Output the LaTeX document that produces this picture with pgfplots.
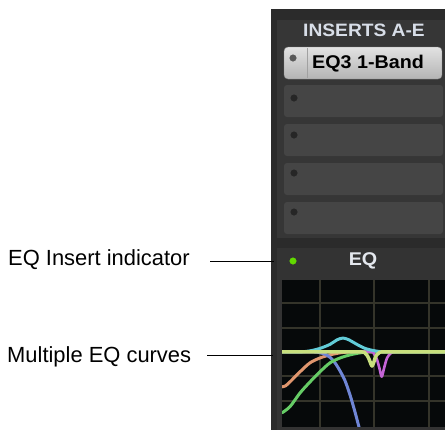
\documentclass[border=0pt]{standalone}
\usepackage{fontspec}
\setmainfont{Liberation Sans}
\newfontfamily\uifont{Liberation Sans}[FakeStretch=1.07]
\usepackage{pgfplots}
\pgfplotsset{compat=1.18}

\definecolor{panelout}{HTML}{2B2B2B}
\definecolor{panelin}{HTML}{363636}
\definecolor{slotc}{HTML}{454545}
\definecolor{eqhead}{HTML}{333333}
\definecolor{slotdot}{HTML}{262626}
\definecolor{btntop}{HTML}{E2E2E2}
\definecolor{btnbot}{HTML}{B4B4B4}
\definecolor{btnedge}{HTML}{8A8A8A}
\definecolor{hdrtxt}{HTML}{D8DEE8}
\definecolor{eqtxt}{HTML}{E4E8EE}
\definecolor{graphbg}{HTML}{06090A}
\definecolor{gridc}{HTML}{34342A}
\definecolor{orangec}{HTML}{E0966E}
\definecolor{bluec}{HTML}{6F86D6}
\definecolor{greenc}{HTML}{66CC66}
\definecolor{magc}{HTML}{C464D6}
\definecolor{cyanc}{HTML}{62CCD8}
\definecolor{yelc}{HTML}{C8E07E}

\begin{document}
\begin{tikzpicture}
% the mixer strip, in pixel coordinates
\begin{axis}[name=ui, hide axis, scale only axis,
  width=445bp, height=430bp,
  xmin=0, xmax=445, ymin=0, ymax=430, y dir=reverse, clip=false]
  \fill[white] (axis cs:0,0) rectangle (axis cs:445,430);
  \fill[panelout] (axis cs:271,9) rectangle (axis cs:445,430);
  \fill[panelin] (axis cs:277,20) rectangle (axis cs:445,238);
  \fill[eqhead] (axis cs:277,248) rectangle (axis cs:445,430);
  % insert slots
  \fill[slotc, rounded corners=3bp] (axis cs:284,85) rectangle (axis cs:443,117);
  \fill[slotc, rounded corners=3bp] (axis cs:284,124) rectangle (axis cs:443,156);
  \fill[slotc, rounded corners=3bp] (axis cs:284,163) rectangle (axis cs:443,195);
  \fill[slotc, rounded corners=3bp] (axis cs:284,202) rectangle (axis cs:443,234);
  % first insert button
  \shade[top color=btntop, bottom color=btnbot, draw=btnedge, rounded corners=4bp]
    (axis cs:284,47) rectangle (axis cs:442,79);
  \draw[btnedge!80, line width=0.8bp] (axis cs:307,48) -- (axis cs:307,78);
  \node[anchor=base, inner sep=0, text=hdrtxt,
    font=\uifont\bfseries\fontsize{18}{20}\selectfont] at (axis cs:364,36) {INSERTS A-E};
  \node[anchor=base, inner sep=0, text=black,
    font=\uifont\bfseries\fontsize{18.5}{20}\selectfont] at (axis cs:368,68.5) {EQ3 1-Band};
  \node[anchor=base, inner sep=0, text=eqtxt,
    font=\uifont\bfseries\fontsize{18.5}{20}\selectfont] at (axis cs:363,265.5) {EQ};
  \addplot[only marks, mark=*, mark size=3.3pt, color=gray!70!black] coordinates {(293,58)};
  \addplot[only marks, mark=*, mark size=3.3pt, color=slotdot] coordinates {(294,98) (294,135) (294,173) (294,212)};
  \addplot[only marks, mark=*, mark size=3.3pt, color=green!55!yellow!85!black] coordinates {(293,261)};
  % callouts
  \node[anchor=base west, inner sep=0, font=\fontsize{22}{26}\selectfont] at (axis cs:8,265) {EQ Insert indicator};
  \node[anchor=base west, inner sep=0, font=\fontsize{22}{26}\selectfont] at (axis cs:7,362) {Multiple EQ curves};
  \draw[black, line width=1.7bp] (axis cs:210,261.5) -- (axis cs:274,261.5);
  \draw[black, line width=1.7bp] (axis cs:207,355.5) -- (axis cs:273,355.5);
\end{axis}

% the EQ graph
\begin{axis}[at={(282bp,3bp)}, anchor=south west, scale only axis,
  width=163bp, height=147bp,
  xmode=log, xmin=20, xmax=20000, ymin=-18.5, ymax=17.7,
  axis background/.style={fill=graphbg},
  axis line style={draw=none},
  xmajorticks=false, ymajorticks=false,
  xminorticks=false, yminorticks=false,
  xtick={100,1000,10000}, ytick={-12,-6,0,6,12},
  grid=major, major grid style={draw=gridc, line width=2bp},
  every axis plot/.append style={no markers, smooth, line width=3bp, line cap=round, line join=round}]
  \addplot[orangec] coordinates {(20,-8.6) (23,-8.4) (28,-7.4) (43,-4.9) (65.5,-2.7) (100,-1.5) (153,-0.74) (234,-0.25) (357,0) (545,0) (2000,0) (20000,0)};
  \addplot[bluec] coordinates {(20,0) (40,0) (65,0) (92,-0.1) (124,-0.6) (153,-1.35) (189,-2.7) (234,-4.7) (289,-7.1) (357,-10.6) (441,-14.8) (522,-18.5) (619,-22.2)};
  \addplot[greenc] coordinates {(20,-15) (28,-13.5) (43,-10.1) (65.5,-7.4) (100,-4.9) (153,-2.7) (234,-1.5) (357,-0.74) (545,-0.25) (834,0) (3000,0) (20000,0)};
  \addplot[magc, line width=2.6bp] coordinates {(20,0) (200,0) (834,0) (986,-0.5) (1114,-1.8) (1240,-4) (1370,-6.1) (1512,-4) (1716,-1.5) (2030,-0.3) (2520,0) (6000,0) (20000,0)};
  \addplot[cyanc] coordinates {(20,0) (43,0) (65.5,0.25) (100,0.86) (153,1.85) (206,2.96) (265,3.4) (342,2.96) (460,1.97) (674,0.86) (1030,0.25) (1573,0) (5000,0) (20000,0)};
  \addplot[yelc, line width=3.5bp] coordinates {(20,0) (100,0) (545,0) (674,-0.3) (763,-1.2) (834,-2.4) (907,-3.5) (986,-2.4) (1072,-1.0) (1215,-0.3) (1435,0) (5000,0) (20000,0)};
\end{axis}
\pgfresetboundingbox
\useasboundingbox (0,0) rectangle (445bp,430bp);
\end{tikzpicture}
\end{document}
